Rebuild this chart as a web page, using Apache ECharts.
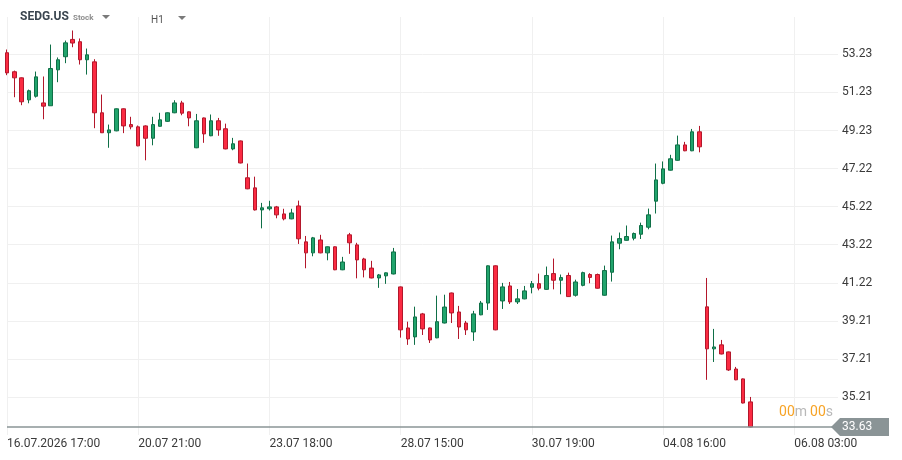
<!DOCTYPE html>
<html>
<head>
<meta charset="utf-8">
<script src="https://cdn.jsdelivr.net/npm/echarts@6/dist/echarts.min.js"></script>
<style>
  html, body { margin: 0; padding: 0; background: #fff; }
  #chart { width: 902px; height: 460px; }
</style>
</head>
<body>
<div id="chart"></div>
<script>
const SYMBOL = "SEDG.US";
const SYMBOL_TYPE = "Stock";
const TIMEFRAME = "H1";
const YEAR = "2026";
const LAST_PRICE = 33.63;

const TRADING_DAYS = ["16.07", "17.07", "20.07", "21.07", "22.07", "23.07", "24.07", "27.07",
  "28.07", "29.07", "30.07", "31.07", "03.08", "04.08", "05.08"];
const SESSION_HOURS = [15, 16, 17, 18, 19, 20, 21];
const FIRST_HOUR = 17;
const FUTURE_CATEGORIES = ["05.08 22:00", "05.08 23:00", "06.08 00:00", "06.08 01:00", "06.08 02:00",
  "06.08 03:00", "06.08 04:00", "06.08 05:00", "06.08 06:00", "06.08 07:00", "06.08 08:00", "06.08 09:00"];

// price labels shown on the right axis, bottom to top
const Y_TICKS = [35.21, 37.21, 39.21, 41.22, 43.22, 45.22, 47.22, 49.23, 51.23, 53.23];
const Y_TOP = 55.20;

const OPEN = [
  53.32, 52.32, 52.00, 50.84, 51.03, 50.68, 50.53, 52.42, 53.11, 54.02,
  53.90, 52.95, 52.84, 50.16, 49.11, 49.21, 50.37, 49.54, 49.42, 49.47,
  48.82, 49.45, 49.71, 50.16, 50.68, 50.21, 48.32, 49.89, 48.95, 49.74,
  49.32, 48.26, 48.68, 46.74, 46.21, 45.05, 45.11, 45.21, 44.84, 44.58,
  45.26, 43.37, 42.79, 43.47, 42.79, 43.11, 41.90, 43.74, 43.21, 42.47,
  41.99, 41.47, 41.58, 41.68, 41.00, 38.84, 38.37, 39.58, 38.84, 38.32,
  39.10, 40.68, 39.68, 39.10, 38.63, 39.53, 40.15, 42.11, 40.26, 41.05,
  40.21, 40.37, 40.98, 41.17, 40.87, 41.70, 41.35, 41.60, 40.56, 41.08,
  41.65, 41.65, 40.56, 41.77, 43.30, 43.45, 43.56, 43.77, 44.14, 45.51,
  46.45, 47.14, 47.66, 48.47, 48.16, 49.16, 39.95, 37.74, 37.95, 37.58,
  36.68, 36.16, 34.95
];
const CLOSE = [
  52.26, 52.00, 50.74, 51.32, 52.05, 50.51, 52.49, 52.95, 53.84, 53.83,
  52.95, 53.21, 50.16, 49.11, 49.26, 50.37, 49.47, 49.42, 48.42, 48.82,
  49.54, 49.79, 50.16, 50.68, 50.14, 49.89, 49.74, 49.05, 49.74, 49.26,
  48.26, 48.53, 47.52, 46.16, 45.05, 45.16, 45.21, 44.79, 44.58, 44.89,
  43.53, 42.79, 43.58, 42.79, 43.11, 41.90, 42.31, 43.32, 42.42, 41.90,
  41.47, 41.63, 41.74, 42.84, 38.74, 38.26, 39.42, 38.79, 38.21, 39.17,
  39.94, 39.63, 38.89, 38.74, 39.58, 40.15, 42.11, 38.74, 41.00, 40.21,
  40.37, 40.79, 41.17, 40.93, 41.60, 41.35, 41.49, 40.49, 41.26, 41.75,
  41.50, 40.93, 41.86, 43.37, 43.54, 43.65, 43.81, 44.23, 44.79, 46.63,
  47.21, 47.74, 48.47, 48.16, 49.16, 48.37, 37.74, 37.84, 37.47, 36.63,
  36.11, 34.89, 33.63
];
const LOW = [
  52.14, 50.98, 50.56, 50.66, 50.96, 49.82, 50.53, 51.77, 52.77, 53.61,
  52.70, 52.17, 49.35, 49.10, 48.32, 49.19, 49.09, 49.29, 48.40, 47.66,
  48.45, 49.43, 49.68, 50.14, 50.03, 49.45, 48.30, 48.58, 48.93, 48.95,
  48.24, 48.19, 47.50, 46.14, 45.02, 44.08, 45.02, 44.61, 44.50, 44.56,
  43.26, 41.98, 42.61, 42.77, 42.40, 41.88, 41.88, 42.74, 41.45, 41.50,
  41.45, 40.95, 41.16, 41.66, 38.33, 37.95, 37.95, 38.47, 38.05, 38.30,
  39.08, 39.10, 38.26, 38.47, 38.16, 39.51, 39.79, 38.72, 39.84, 40.10,
  40.10, 40.35, 40.66, 40.82, 40.85, 40.87, 40.61, 40.47, 40.49, 41.03,
  41.19, 40.91, 40.54, 41.28, 42.98, 43.43, 43.45, 43.52, 44.03, 44.86,
  46.40, 47.12, 47.64, 48.14, 48.14, 48.08, 36.11, 37.05, 37.45, 36.58,
  36.09, 34.87, 33.61
];
const HIGH = [
  53.49, 52.38, 52.02, 51.38, 52.33, 52.07, 53.75, 53.07, 53.96, 54.49,
  54.07, 53.54, 52.98, 51.12, 49.54, 50.39, 50.39, 49.95, 49.49, 49.50,
  49.95, 50.16, 50.18, 50.82, 50.79, 50.23, 50.10, 49.91, 50.07, 49.89,
  49.59, 48.84, 48.70, 47.49, 46.80, 45.42, 45.53, 45.26, 45.11, 45.11,
  45.54, 43.68, 43.63, 43.74, 43.13, 43.13, 42.58, 43.84, 43.32, 42.53,
  42.37, 41.68, 41.76, 43.05, 41.02, 39.17, 39.96, 39.63, 38.86, 40.54,
  40.59, 40.70, 40.00, 39.21, 39.74, 40.26, 42.13, 42.13, 41.21, 41.26,
  40.89, 41.05, 41.31, 41.70, 42.07, 42.49, 41.65, 41.75, 41.38, 41.80,
  41.72, 41.70, 42.12, 43.70, 43.86, 44.23, 43.86, 44.38, 45.12, 47.49,
  47.60, 47.95, 48.96, 48.63, 49.31, 49.47, 41.47, 38.79, 38.21, 37.60,
  36.79, 36.18, 35.21
];

const categories = [];
TRADING_DAYS.forEach((day, d) => {
  SESSION_HOURS.forEach(hour => {
    if (d === 0 && hour < FIRST_HOUR) {
      return;
    }
    categories.push(`${day} ${String(hour).padStart(2, "0")}:00`);
  });
});
categories.push(...FUTURE_CATEGORIES);

const candles = OPEN.map((open, i) => [open, CLOSE[i], LOW[i], HIGH[i]]);

// the broker's price grid is evenly spaced, one step below the lowest label starts the axis
const yStep = (Y_TICKS[Y_TICKS.length - 1] - Y_TICKS[0]) / (Y_TICKS.length - 1);
const yMin = Y_TICKS[0] - yStep;

const GRID_COLOR = "#f0f0f0";
const TEXT_COLOR = "#3a3a3a";
const UP_FILL = "#21a46c";
const UP_LINE = "#0f6f47";
const DOWN_FILL = "#fb2b42";
const DOWN_LINE = "#b3172b";
const PRICE_GRAY = "#8a9496";

const chart = echarts.init(document.getElementById("chart"));

chart.setOption({
  animation: false,
  backgroundColor: "#fff",
  textStyle: { fontFamily: "Roboto" },
  grid: { left: 7, right: 64, top: 17, bottom: 25 },
  xAxis: {
    type: "category",
    data: categories,
    boundaryGap: false,
    axisLine: { show: false },
    axisTick: { show: false },
    axisLabel: {
      interval: 17,
      align: "left",
      margin: 3,
      color: TEXT_COLOR,
      fontSize: 12,
      fontFamily: "Roboto",
      formatter(value, index) {
        if (index === 0) {
          const [day, time] = value.split(" ");
          return `${day}.${YEAR} ${time}`;
        }
        return value;
      }
    },
    splitLine: { show: true, interval: 17, lineStyle: { color: GRID_COLOR, width: 1 } }
  },
  yAxis: {
    type: "value",
    position: "right",
    min: yMin,
    max: Y_TOP,
    interval: yStep,
    axisLine: { show: false },
    axisTick: { show: false },
    axisLabel: {
      margin: 4,
      color: TEXT_COLOR,
      fontSize: 12,
      fontFamily: "Roboto",
      showMinLabel: false,
      showMaxLabel: false,
      formatter: v => v.toFixed(2)
    },
    splitLine: {
      show: true,
      showMinLine: false,
      showMaxLine: false,
      lineStyle: { color: GRID_COLOR, width: 1 }
    }
  },
  series: [{
    type: "candlestick",
    data: candles,
    barWidth: 4,
    clip: false,
    itemStyle: {
      color: UP_FILL,
      color0: DOWN_FILL,
      borderColor: UP_LINE,
      borderColor0: DOWN_LINE,
      borderWidth: 1
    },
    markLine: {
      silent: true,
      symbol: "none",
      label: { show: false },
      lineStyle: { color: PRICE_GRAY, width: 1.5, type: "solid" },
      data: [{ yAxis: LAST_PRICE }]
    }
  }]
});

const priceY = chart.convertToPixel({ yAxisIndex: 0 }, LAST_PRICE);
const boxLeft = 831;
const boxRight = 889;

chart.setOption({
  graphic: [
    {
      type: "text", left: 20, top: 11,
      style: { text: SYMBOL, fontSize: 12, fontWeight: "bold", fill: "#3b4650", fontFamily: "Roboto" }
    },
    {
      type: "text", left: 73, top: 14,
      style: { text: SYMBOL_TYPE, fontSize: 8, fontWeight: "bold", fill: "#8d8d8d", fontFamily: "Roboto" }
    },
    {
      type: "polygon",
      shape: { points: [[102, 15], [110, 15], [106, 19]] },
      style: { fill: "#7a7a7a" }
    },
    {
      type: "text", left: 151, top: 15,
      style: { text: TIMEFRAME, fontSize: 10, fill: "#555", fontFamily: "Roboto" }
    },
    {
      type: "polygon",
      shape: { points: [[178, 16], [186, 16], [182, 20]] },
      style: { fill: "#7a7a7a" }
    },
    {
      type: "polygon",
      shape: {
        points: [[boxLeft, priceY], [boxLeft + 9, priceY - 9], [boxRight, priceY - 9],
          [boxRight, priceY + 9], [boxLeft + 9, priceY + 9]]
      },
      style: { fill: PRICE_GRAY }
    },
    {
      type: "text", x: 842, y: priceY,
      style: {
        text: LAST_PRICE.toFixed(2), fontSize: 12, fill: "#fff",
        verticalAlign: "middle", fontFamily: "Roboto"
      }
    },
    {
      type: "text", x: 833, y: priceY - 14,
      style: {
        text: "{o|00}{g|m} {o|00}{g|s}",
        align: "right",
        verticalAlign: "middle",
        fontFamily: "Roboto",
        rich: {
          o: { fontSize: 14, fill: "#f7a325", fontFamily: "Roboto" },
          g: { fontSize: 14, fill: "#b8b8b8", fontFamily: "Roboto" }
        }
      }
    }
  ]
});

window.addEventListener("resize", () => chart.resize());
</script>
</body>
</html>
